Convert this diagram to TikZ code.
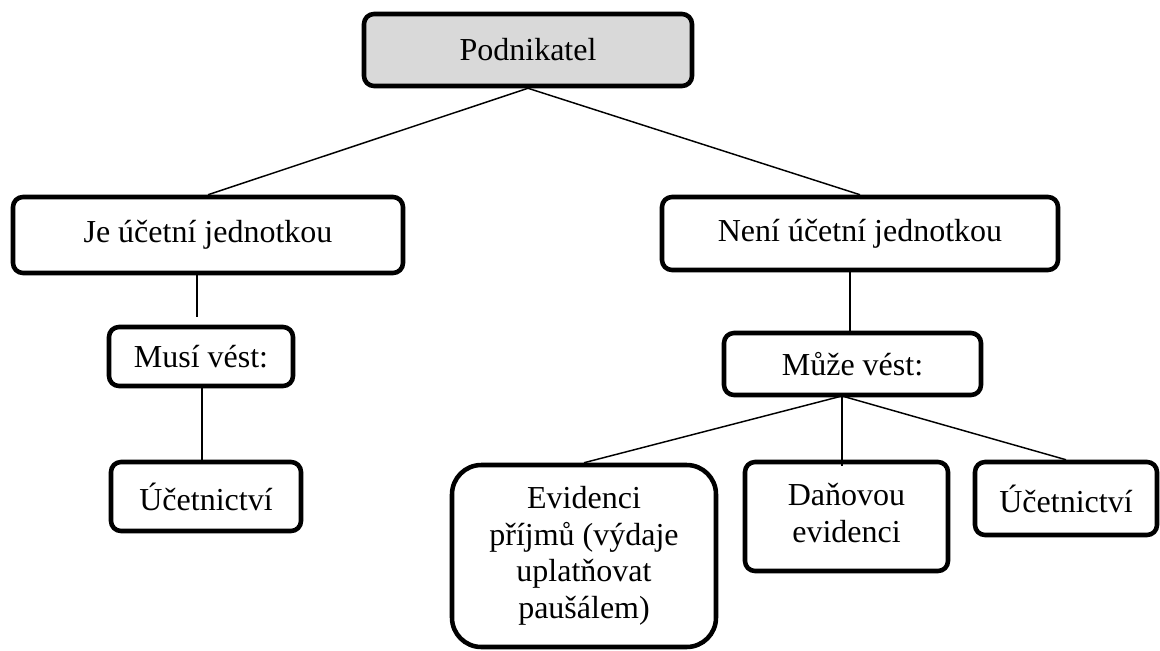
\documentclass[tikz,border=0pt]{standalone}
\usepackage{fontspec}
\setmainfont{Liberation Serif}
\usetikzlibrary{calc}
\definecolor{boxgray}{HTML}{D9D9D9}
\tikzset{
  box/.style={draw=black, line width=3.4pt, rounded corners=7.5pt, fill=white,
    inner sep=0pt, align=center, font=\fontsize{24}{27.5}\selectfont},
  link/.style={draw=black, line width=1.1pt},
}
\begin{document}
\begin{tikzpicture}[x=0.75pt,y=-0.75pt]
\useasboundingbox (0,0) rectangle (1160,650);
\node[box, fill=boxgray, minimum width={328*0.75pt}, minimum height={72*0.75pt}] (pod) at (528,50) {Podnikatel};
\node[box, minimum width={390*0.75pt}, minimum height={76*0.75pt}] (je) at (208,235) {Je účetní jednotkou};
\node[box, minimum width={396*0.75pt}, minimum height={73*0.75pt}] (neni) at (860,233.5) {Není účetní jednotkou};
\node[box, minimum width={184*0.75pt}, minimum height={59*0.75pt}] (musi) at (201,356.5) {Musí vést:};
\node[box, minimum width={190*0.75pt}, minimum height={69*0.75pt}] (ucl) at (206,496.5) {Účetnictví};
\node[box, minimum width={257*0.75pt}, minimum height={62*0.75pt}] (muze) at (852.5,364) {Může vést:};
\node[box, rounded corners=22pt, minimum width={264*0.75pt}, minimum height={182*0.75pt}] (evid) at (584,556)
  {\raisebox{-3pt}{\begin{tabular}{@{}c@{}}Evidenci\\příjmů (výdaje\\uplatňovat\\paušálem)\end{tabular}}};
\node[box, minimum width={203*0.75pt}, minimum height={109*0.75pt}] (dan) at (846.5,516.5)
  {\raisebox{-1.5pt}{\begin{tabular}{@{}c@{}}Daňovou\\evidenci\end{tabular}}};
\node[box, minimum width={182*0.75pt}, minimum height={73*0.75pt}] (ucr) at (1066,498.5) {Účetnictví};

\coordinate (m1) at (197,317);
\coordinate (m2) at (202,384);
\coordinate (n1) at (850,334);
\coordinate (h) at (842,396);
\coordinate (h2) at (842,466);

\draw[link] (pod.south) -- (je.north);
\draw[link] (pod.south) -- (neni.north);
\draw[link] (je.south -| m1) -- (m1);
\draw[link] (m2) -- (m2 |- ucl.north);
\draw[link] (neni.south -| n1) -- (n1);
\draw[link] (h) -- (evid.north);
\draw[link] (h) -- (h2);
\draw[link] (h) -- (ucr.north);
\end{tikzpicture}
\end{document}
